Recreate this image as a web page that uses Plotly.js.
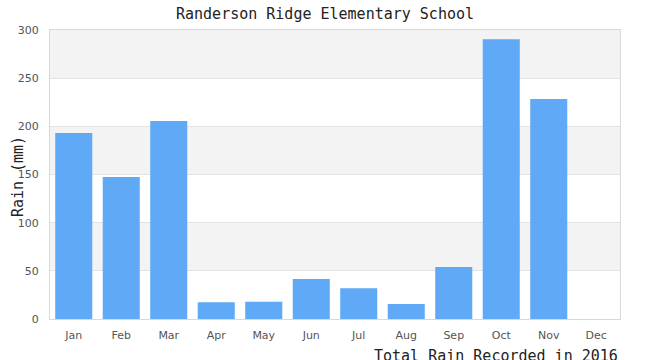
<!DOCTYPE html>
<html><head><meta charset="utf-8">
<script src="https://cdn.plot.ly/plotly-3.0.1.min.js"></script>
<style>body{margin:0;background:#fff}#c{width:650px;height:360px}</style>
</head><body><div id="c"></div>
<script>
const months = ["Jan","Feb","Mar","Apr","May","Jun","Jul","Aug","Sep","Oct","Nov","Dec"];
const rain = [193, 147.5, 205.5, 17.5, 18, 41.5, 32, 15.5, 54, 290.5, 228.5, 0];
const yTicks = [0, 50, 100, 150, 200, 250, 300];
const bands = [[50,100],[150,200],[250,300]];

const shapes = bands.map(b => ({type:'rect', xref:'paper', yref:'y', x0:0, x1:1, y0:b[0], y1:b[1],
  fillcolor:'#f3f3f3', line:{width:0}, layer:'below'}));

const mono = '"DejaVu Sans Mono", "Liberation Mono", monospace';
const sans = '"DejaVu Sans", sans-serif';
Plotly.newPlot('c', [{
  type:'bar', x:months, y:rain, marker:{color:'#60a9f6'}, hoverinfo:'none'
}], {
  width:650, height:360,
  margin:{l:50, r:30, t:30, b:41},
  paper_bgcolor:'#fff', plot_bgcolor:'#fff',
  bargap:0.22,
  title:{text:'Randerson Ridge Elementary School', font:{family:mono, size:15, color:'#222'}, x:0.5, xanchor:'center', xref:'container', y:0.961, yanchor:'middle', yref:'container'},
  xaxis:{showgrid:false, showline:true, linecolor:'#d9d9d9', mirror:true, ticks:'', ticklabelstandoff:6, tickfont:{family:sans, size:11, color:'#555'}, fixedrange:true},
  yaxis:{range:[0,300], tickvals:yTicks, showgrid:true, gridcolor:'#e2e2e2', showline:true, linecolor:'#d9d9d9', mirror:true, zeroline:false, ticks:'', ticklabelstandoff:8,
    tickfont:{family:sans, size:11, color:'#555'}},
  shapes: shapes,
  annotations:[
    {text:'Total Rain Recorded in 2016', xref:'paper', yref:'paper', x:1, xanchor:'right', y:-0.09, yanchor:'top', showarrow:false,
      font:{family:mono, size:15, color:'#222'}},
    {text:'Rain (mm)', xref:'paper', yref:'paper', x:-0.0561, xanchor:'center', y:0.491, yanchor:'middle', textangle:-90, showarrow:false,
      font:{family:mono, size:15, color:'#222'}}
  ]
}, {displayModeBar:false, staticPlot:true});
</script></body></html>
